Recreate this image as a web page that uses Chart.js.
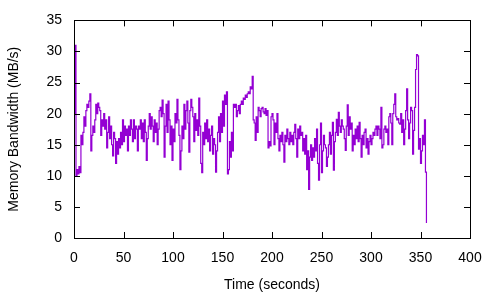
<!DOCTYPE html>
<html>
<head>
<meta charset="utf-8">
<script src="https://cdn.jsdelivr.net/npm/chart.js@4/dist/chart.umd.min.js"></script>
<style>
  html, body { margin: 0; padding: 0; background: #fff; }
  #wrap { width: 500px; height: 300px; }
</style>
</head>
<body>
<div id="wrap"><canvas id="bwChart" width="500" height="300"></canvas></div>
<script>
// sampled once per second, starting at t = 0
const startTime = 0;
const bandwidth = [
  20, 31, 10, 11, 10.3, 11.5, 10.5, 16.5, 15, 17,
  19.5, 18, 20.5, 21.5, 21, 22, 23.2, 14, 16.5, 18,
  17, 19, 21.5, 20, 21.7, 21, 20.5, 16.5, 19, 18,
  20, 17.5, 19, 14.5, 17, 19.5, 16, 18, 15, 13.2,
  17, 16, 12, 15.5, 13.5, 16, 14.5, 17, 15, 19,
  15.5, 18, 16.5, 17.5, 14, 18, 16.5, 19, 17.5, 15.5,
  19, 16, 18, 17.5, 14, 18, 17.5, 19, 16, 18.5,
  15.5, 19, 17, 12.5, 16, 18, 20, 17.5, 19.5, 18,
  15.5, 19, 17, 18.5, 15, 17.5, 20.5, 21, 19.5, 22.2,
  20, 13, 18, 21.5, 17, 22, 19, 15, 18, 12.5,
  17.5, 15.5, 20, 18.5, 22.3, 19, 16.5, 11, 14, 18,
  16, 21.5, 17.5, 20.5, 22, 18.5, 13.8, 20.5, 22.3, 21,
  19.5, 15.5, 20, 17.3, 19, 16.5, 22.5, 18, 12, 10.5,
  17, 15, 18.5, 16, 19, 15.5, 17.5, 14, 16.5, 18,
  13.5, 16, 15, 10.6, 14, 17, 19.5, 15.5, 20, 17,
  22, 18, 23, 21.5, 23.5, 10.3, 11, 15.5, 13, 17,
  14, 21.5, 21, 21.5, 19.5, 20.5, 21.3, 20, 21.5, 22,
  21.5, 22.5, 22.3, 23, 22.6, 23.2, 23.5, 23.2, 24.3, 24,
  26, 19, 18.5, 15.7, 19.5, 17, 21, 20.5, 19.5, 20.8,
  21, 20.3, 20, 20.8, 19.7, 20.5, 14.5, 15.5, 14.8, 19.5,
  20, 19, 15, 18.5, 17, 20, 16, 14, 16.5, 15.5,
  17, 15, 12.2, 16.5, 15.5, 17.5, 16, 15, 17, 15.5,
  16.5, 15, 17, 18.3, 16, 13, 17.5, 16, 18, 16.5,
  17, 14, 16, 13.5, 16.5, 11, 14, 7.8, 13, 15,
  12.5, 14.5, 13, 16, 14, 17.5, 12, 9.3, 15, 18.5,
  10.5, 14, 16.5, 15, 14.5, 11.5, 13, 15, 17, 13.5,
  16.5, 18.6, 10.9, 15.5, 17, 19.1, 16.5, 20.2, 18, 17,
  19, 18, 17.5, 16, 14.1, 18, 21.4, 16.5, 19.5, 17.5,
  18.5, 14, 16.5, 15, 17.5, 16, 18, 15.5, 18.6, 16,
  13, 16.5, 15, 17, 17.5, 14.5, 16, 13.5, 15.5, 16.5,
  15, 16, 17, 16.5, 17.5, 18, 16.5, 18, 17.5, 16,
  21, 14.5, 15, 17.5, 18, 17, 17.5, 15, 19.5, 20,
  18.5, 15, 20, 21.5, 23.2, 19.5, 19, 19.2, 18.5, 18.3,
  20, 17, 19, 15, 17.5, 20.5, 24, 19, 16, 18.5,
  21, 20.5, 13.5, 17.3, 21, 27.1, 29.5, 29.3, 14.3, 16,
  12, 14, 16.5, 15, 19, 10.6, 2.4
];
const xTicks = [0, 50, 100, 150, 200, 250, 300, 350, 400];
const yTicks = [0, 5, 10, 15, 20, 25, 30, 35];

const points = bandwidth.map((v, i) => ({ x: startTime + i, y: v }));

// gnuplot-like frame with inward ticks on all four sides
const framePlugin = {
  id: 'frame',
  afterDatasetsDraw(chart) {
    const c = chart.ctx, a = chart.chartArea;
    const xs = chart.scales.x, ys = chart.scales.y;
    c.save();
    c.strokeStyle = '#000';
    c.lineWidth = 1;
    c.beginPath();
    xTicks.forEach(t => {
      const px = Math.round(xs.getPixelForValue(t)) + 0.5;
      c.moveTo(px, a.bottom); c.lineTo(px, a.bottom - 6);
      c.moveTo(px, a.top); c.lineTo(px, a.top + 6);
    });
    yTicks.forEach(t => {
      const py = Math.round(ys.getPixelForValue(t)) + 0.5;
      c.moveTo(a.left, py); c.lineTo(a.left + 6, py);
      c.moveTo(a.right, py); c.lineTo(a.right - 6, py);
    });
    c.stroke();
    c.strokeRect(Math.round(a.left) + 0.5, Math.round(a.top) + 0.5,
      Math.round(a.right - a.left), Math.round(a.bottom - a.top));
    c.restore();
  }
};

const font = { family: "'Liberation Sans', Arial, sans-serif", size: 14 };

new Chart(document.getElementById('bwChart').getContext('2d'), {
  type: 'line',
  data: {
    datasets: [{
      data: points,
      borderColor: '#9400d3',
      borderWidth: 1.2,
      stepped: true,
      pointRadius: 0,
      fill: false
    }]
  },
  options: {
    responsive: false,
    animation: false,
    layout: { padding: { top: 19, right: 30, left: 0, bottom: 0 } },
    plugins: { legend: { display: false }, tooltip: { enabled: false } },
    scales: {
      x: {
        type: 'linear',
        min: 0, max: 400,
        afterBuildTicks: s => { s.ticks = xTicks.map(v => ({ value: v })); },
        afterFit: s => { s.height = 62; },
        grid: { display: false, drawTicks: false },
        border: { display: false },
        ticks: { color: '#000', font: font, padding: 12, maxRotation: 0 },
        title: { display: true, text: 'Time (seconds)', color: '#000', font: font, padding: { top: 0, bottom: 6 } }
      },
      y: {
        min: 0, max: 35,
        afterBuildTicks: s => { s.ticks = yTicks.map(v => ({ value: v })); },
        afterFit: s => { s.width = 74; },
        grid: { display: false, drawTicks: false },
        border: { display: false },
        ticks: { color: '#000', font: font, padding: 12 },
        title: { display: true, text: 'Memory Bandwidth (MB/s)', color: '#000', font: font, padding: { top: 6, bottom: 0 } }
      }
    }
  },
  plugins: [framePlugin]
});
</script>
</body>
</html>
